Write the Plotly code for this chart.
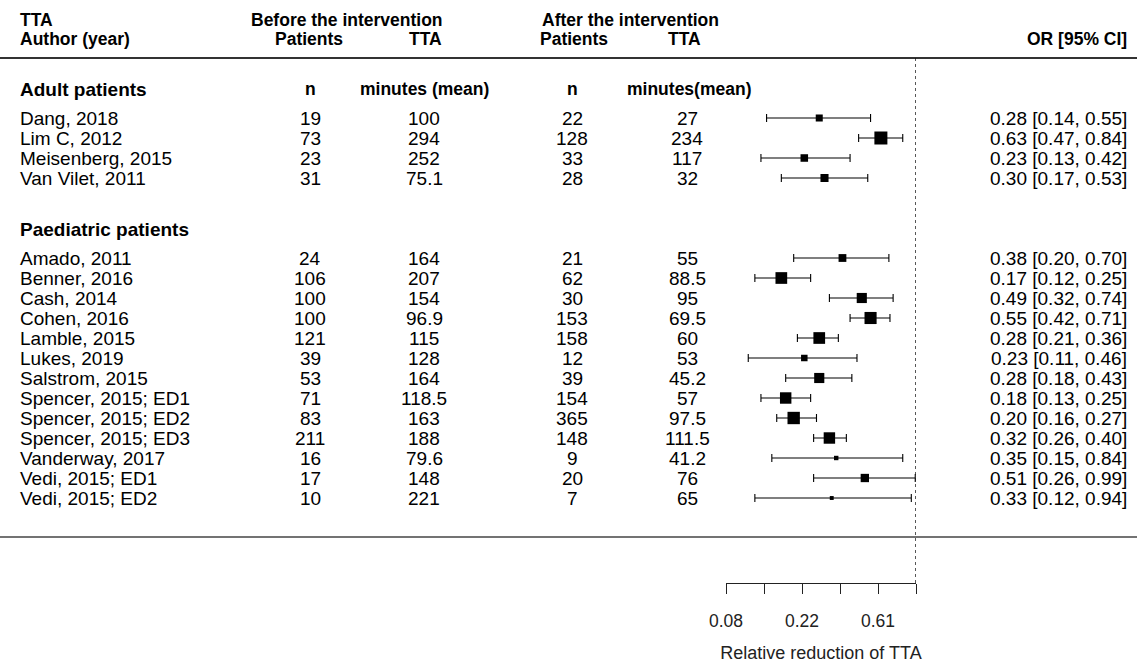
import numpy as np
import plotly.graph_objects as go

# ---------------- data ----------------
adult_authors = ["Dang, 2018", "Lim C, 2012", "Meisenberg, 2015", "Van Vilet, 2011"]
adult_before_n = ["19", "73", "23", "31"]
adult_before_tta = ["100", "294", "252", "75.1"]
adult_after_n = ["22", "128", "33", "28"]
adult_after_tta = ["27", "234", "117", "32"]
adult_or = [0.28, 0.63, 0.23, 0.30]
adult_lo = [0.14, 0.47, 0.13, 0.17]
adult_hi = [0.55, 0.84, 0.42, 0.53]
adult_weight = [0.54, 1.00, 0.58, 0.62]

paed_authors = ["Amado, 2011", "Benner, 2016", "Cash, 2014", "Cohen, 2016", "Lamble, 2015",
                "Lukes, 2019", "Salstrom, 2015", "Spencer, 2015; ED1", "Spencer, 2015; ED2",
                "Spencer, 2015; ED3", "Vanderway, 2017", "Vedi, 2015; ED1", "Vedi, 2015; ED2"]
paed_before_n = ["24", "106", "100", "100", "121", "39", "53", "71", "83", "211", "16", "17", "10"]
paed_before_tta = ["164", "207", "154", "96.9", "115", "128", "164", "118.5", "163", "188", "79.6", "148", "221"]
paed_after_n = ["21", "62", "30", "153", "158", "12", "39", "154", "365", "148", "9", "20", "7"]
paed_after_tta = ["55", "88.5", "95", "69.5", "60", "53", "45.2", "57", "97.5", "111.5", "41.2", "76", "65"]
paed_or = [0.38, 0.17, 0.49, 0.55, 0.28, 0.23, 0.28, 0.18, 0.20, 0.32, 0.35, 0.51, 0.33]
paed_lo = [0.20, 0.12, 0.32, 0.42, 0.21, 0.11, 0.18, 0.13, 0.16, 0.26, 0.15, 0.26, 0.12]
paed_hi = [0.70, 0.25, 0.74, 0.71, 0.36, 0.46, 0.43, 0.25, 0.27, 0.40, 0.84, 0.99, 0.94]
paed_weight = [0.60, 0.90, 0.78, 0.93, 0.90, 0.50, 0.78, 0.88, 0.95, 0.88, 0.34, 0.64, 0.30]

# axis ticks on the log-OR scale and their labels
axis_tick_log = [-2.5, -2.0, -1.5, -1.0, -0.5, 0.0]
axis_tick_text = ["0.08", "", "0.22", "", "0.61", ""]
axis_title = "Relative reduction of TTA"

# ---------------- layout constants ----------------
W, H = 1137, 665
FONT = "Liberation Sans, Arial, sans-serif"
ROW = 20.0
Y_HEAD1, Y_HEAD2, Y_TOPLINE = 20, 39, 58
Y_ADULT_HDR = 89
Y_ADULT0 = 118
Y_PAED_HDR = 229
Y_PAED0 = 258
Y_BOTLINE = 537
Y_AXIS = 583
X_AUTHOR, X_BN, X_BT, X_AN, X_AT, X_OR = 18, 310, 424, 572, 687, 1129
FX0, FX1 = 726, 916  # forest panel pixel extents (log OR -2.5 .. 0)
HDR = 17.5
DATA = 19
GRP = 19

fig = go.Figure()

ann = []


def txt(x, y, s, size=DATA, bold=False, anchor="center"):
    ann.append(dict(x=x / W, y=y, xref="paper", yref="y", text=("<b>%s</b>" % s) if bold else s,
                    showarrow=False, xanchor=anchor, yanchor="middle",
                    font=dict(family=FONT, size=size, color="#000")))


# headers
txt(X_AUTHOR, Y_HEAD1, "TTA", HDR, True, "left")
txt(X_AUTHOR, Y_HEAD2, "Author (year)", HDR, True, "left")
txt(249, Y_HEAD1, "Before the intervention", HDR, True, "left")
txt(540, Y_HEAD1, "After the intervention", HDR, True, "left")
txt(309, Y_HEAD2, "Patients", HDR, True)
txt(425, Y_HEAD2, "TTA", HDR, True)
txt(574, Y_HEAD2, "Patients", HDR, True)
txt(684, Y_HEAD2, "TTA", HDR, True)
txt(X_OR, Y_HEAD2, "OR [95% CI]", HDR, True, "right")

txt(X_AUTHOR, Y_ADULT_HDR, "Adult patients", GRP, True, "left")
txt(X_BN, Y_ADULT_HDR, "n", HDR, True)
txt(X_BT, Y_ADULT_HDR, "minutes (mean)", HDR, True)
txt(X_AN, Y_ADULT_HDR, "n", HDR, True)
txt(689, Y_ADULT_HDR, "minutes(mean)", HDR, True)
txt(X_AUTHOR, Y_PAED_HDR, "Paediatric patients", GRP, True, "left")

groups = [
    (Y_ADULT0, adult_authors, adult_before_n, adult_before_tta, adult_after_n, adult_after_tta,
     adult_or, adult_lo, adult_hi, adult_weight),
    (Y_PAED0, paed_authors, paed_before_n, paed_before_tta, paed_after_n, paed_after_tta,
     paed_or, paed_lo, paed_hi, paed_weight),
]

for y0, au, bn, bt, an, at, orv, lo, hi, wt in groups:
    ys = [y0 + ROW * i for i in range(len(au))]
    for i, y in enumerate(ys):
        txt(X_AUTHOR, y, au[i], anchor="left")
        txt(X_BN, y, bn[i])
        txt(X_BT, y, bt[i])
        txt(X_AN, y, an[i])
        txt(X_AT, y, at[i])
        txt(X_OR, y, "%.2f [%.2f, %.2f]" % (orv[i], lo[i], hi[i]), anchor="right")
    lx = np.log(np.array(orv))
    fig.add_trace(go.Scatter(
        x=lx, y=ys, mode="markers",
        marker=dict(symbol="square", size=[13 * w for w in wt], color="black", opacity=1,
                    line=dict(width=0)),
        error_x=dict(type="data", symmetric=False,
                     array=np.log(np.array(hi)) - lx, arrayminus=lx - np.log(np.array(lo)),
                     color="black", thickness=1.1, width=4),
        cliponaxis=False, showlegend=False, hoverinfo="skip"))

shapes = [
    dict(type="line", xref="paper", yref="y", x0=0, x1=1, y0=Y_TOPLINE, y1=Y_TOPLINE,
         line=dict(color="#333", width=2)),
    dict(type="line", xref="paper", yref="y", x0=0, x1=1, y0=Y_BOTLINE, y1=Y_BOTLINE,
         line=dict(color="#444", width=1.3)),
    dict(type="line", xref="x", yref="y", x0=0, x1=0, y0=Y_TOPLINE, y1=Y_AXIS,
         line=dict(color="#111", width=1.4, dash="dot")),
]

ybottom = (H - Y_AXIS) / H
fig.update_layout(
    width=W, height=H, margin=dict(l=0, r=0, t=0, b=0, pad=0),
    paper_bgcolor="white", plot_bgcolor="rgba(0,0,0,0)",
    annotations=ann, shapes=shapes,
    xaxis=dict(domain=[FX0 / W, FX1 / W], range=[-2.5, 0], automargin=False,
               tickmode="array", tickvals=axis_tick_log, ticktext=axis_tick_text,
               showline=True, linecolor="#222", linewidth=1.2,
               ticks="outside", ticklen=10, tickwidth=1.2, tickcolor="#222",
               ticklabelstandoff=12,
               showgrid=False, zeroline=False,
               tickfont=dict(family=FONT, size=17.5, color="#222"),
               title=dict(text=axis_title, font=dict(family=FONT, size=18, color="#222"), standoff=16)),
    yaxis=dict(domain=[ybottom, 1], range=[Y_AXIS, 0], visible=False, automargin=False,
               showgrid=False, zeroline=False),
)

fig.write_html("out.html", config={"displayModeBar": False},
               post_script="document.body.style.margin='0px';")
